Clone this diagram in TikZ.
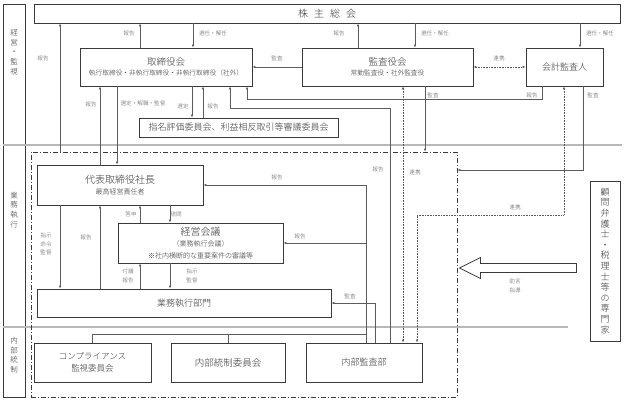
\documentclass[tikz,border=0pt]{standalone}
\usepackage{fontspec}
\setmainfont{Noto Sans CJK JP}[UprightFont=* Light]
\usepackage{tikz}
\usetikzlibrary{arrows.meta,positioning,calc}
\definecolor{ink}{HTML}{333333}
\definecolor{edge}{HTML}{3A3A3A}
\definecolor{wire}{HTML}{5C5C5C}
\definecolor{rulegray}{HTML}{B8B8B8}
\tikzset{
  orgbox/.style={
    rectangle, draw=edge, line width=0.9pt, fill=white,
    text=ink, align=center, inner sep=0pt,
    font=\fontsize{9.5}{10.5}\selectfont
  },
  sidetxt/.style={
    text=ink, align=center, inner sep=0pt,
    font=\fontsize{7.5}{9.7}\selectfont
  },
  lbl/.style={
    text=wire, align=center, inner sep=0pt,
    font=\fontsize{5.6}{8.5}\selectfont
  },
  arr/.style={
    draw=wire, line width=0.6pt, -{Latex[length=3pt,width=2.6pt]}
  },
  conn/.style={draw=wire, line width=0.6pt},
  linkarr/.style={
    draw=wire, line width=0.6pt, dash pattern=on 0.8pt off 0.8pt,
    {Latex[length=3pt,width=2.6pt]}-{Latex[length=3pt,width=2.6pt]}
  },
  execframe/.style={
    rectangle, draw=edge, line width=0.8pt, inner sep=0pt,
    dash pattern=on 5pt off 2pt on 1pt off 2pt
  },
  seprule/.style={draw=rulegray, line width=1.6pt},
  hollow/.style={draw=edge, line width=0.8pt, fill=white, line join=miter},
}

\begin{document}
\begin{tikzpicture}[x=1pt, y=-1pt]
\useasboundingbox (0,0) rectangle (624,401);
\node[rectangle, draw=edge, line width=0.9pt, minimum width=22pt, minimum height=393pt] (side) at (14,200.5) {};
\draw[seprule] (side.west |- 0,145) -- (622,145);
\draw[seprule] (side.west |- 0,327) -- (568,327);
\node[sidetxt] (sidea) at (14,52) {経\\営\\・\\監\\視};
\node[sidetxt] (sideb) at (14,210) {業\\務\\執\\行};
\node[sidetxt] (sidec) at (14,355) {内\\部\\統\\制};

\node[execframe, minimum width=426pt, minimum height=245pt] (execarea) at (244,274.5) {};

\node[orgbox, minimum width=586pt, minimum height=19pt, font=\fontsize{10}{12}\selectfont] (soukai) at (327,13.5) {株\hspace{6pt}主\hspace{6pt}総\hspace{6pt}会};
\node[orgbox, minimum width=172pt, minimum height=38pt] (tob) at (166,67) {取締役会\\{\fontsize{6.7}{8}\selectfont 執行取締役・非執行取締役・非執行取締役（社外）}};
\node[orgbox, minimum width=171pt, minimum height=38pt] (kab) at (387.5,67) {監査役会\\{\fontsize{6.7}{8}\selectfont 常勤監査役・社外監査役}};
\node[orgbox, minimum width=77pt, minimum height=38pt, font=\fontsize{9}{11}\selectfont] (kaikei) at (564.5,67) {会計監査人};
\node[orgbox, minimum width=199pt, minimum height=19pt, font=\fontsize{9}{11}\selectfont] (iinkai) at (238.5,127.5) {指名評価委員会、利益相反取引等審議委員会};
\node[orgbox, minimum width=166pt, minimum height=40pt, font=\fontsize{10}{10.5}\selectfont] (pres) at (120,185) {代表取締役社長\\{\fontsize{7}{8}\selectfont 最高経営責任者}};
\node[orgbox, minimum width=165pt, minimum height=40pt, font=\fontsize{10}{11.5}\selectfont] (keiei) at (200.5,243) {経営会議\\{\fontsize{7}{8}\selectfont （業務執行会議）}\\{\fontsize{7}{8}\selectfont ※社内横断的な重要案件の審議等}};
\node[orgbox, minimum width=294pt, minimum height=28pt, font=\fontsize{9}{11}\selectfont] (bumon) at (184,303) {業務執行部門};
\node[orgbox, minimum width=117pt, minimum height=39pt, font=\fontsize{8.5}{12}\selectfont] (comp) at (92.5,362.5) {コンプライアンス\\監視委員会};
\node[orgbox, minimum width=114pt, minimum height=39pt, font=\fontsize{9.5}{11}\selectfont] (naitou) at (228,362.5) {内部統制委員会};
\node[orgbox, minimum width=116pt, minimum height=39pt, font=\fontsize{9}{11}\selectfont] (kansa) at (364,362.5) {内部監査部};
\node[orgbox, minimum width=30pt, minimum height=160pt, font=\fontsize{9}{10.6}\selectfont] (senmon) at (605,261) {顧\\問\\弁\\護\\士\\・\\税\\理\\士\\等\\の\\専\\門\\家};

\foreach \x in {60,100,117,140,170,192,193,203,230,247,358,366,375,390,403,415,417,425,542,564,580,583}
  \coordinate (c\x) at (\x,0);
\foreach \y in {99,108,170,215,268,334}
  \coordinate (r\y) at (0,\y);

\draw[arr] (execarea.north -| c60) -- (soukai.south -| c60);
\draw[arr] (tob.north -| c140) -- (soukai.south -| c140);
\draw[arr] (soukai.south -| c193) -- (tob.north -| c193);
\draw[arr] (kab.north -| c358) -- (soukai.south -| c358);
\draw[arr] (soukai.south -| c415) -- (kab.north -| c415);
\draw[arr] (soukai.south -| c580) -- (kaikei.north -| c580);
\draw[arr] (kab.west) -- (tob.east);
\draw[linkarr] (kab.east) -- (kaikei.west);
\draw[arr] (pres.north -| c100) -- (tob.south -| c100);
\draw[arr] (tob.south -| c117) -- (pres.north -| c117);
\draw[arr] (tob.south -| c192) -- (iinkai.north -| c192);
\draw[arr] (iinkai.north -| c203) -- (tob.south -| c203);
\draw[arr] (kansa.north -| c390) -- (c390 |- r108) -| (tob.south -| c230);
\draw[arr] (kaikei.south -| c542) -- (c542 |- r99) -| (tob.south -| c247);
\draw[arr] (kab.south -| c425) -- (execarea.north -| c425);
\draw[linkarr] (kab.south -| c403) -- (kansa.north -| c403);
\draw[linkarr] (kaikei.south -| c564) -- (c564 |- r215) -| (kansa.north -| c417);
\draw[arr] (kaikei.south -| c583) |- (execarea.east |- r170);
\draw[arr] (pres.south -| c60) -- (bumon.north -| c60);
\draw[arr] (bumon.north -| c100) -- (pres.south -| c100);
\draw[arr] (keiei.north -| c140) -- (pres.south -| c140);
\draw[arr] (pres.south -| c170) -- (keiei.north -| c170);
\draw[arr] (bumon.north -| c140) -- (keiei.south -| c140);
\draw[arr] (keiei.south -| c170) -- (bumon.north -| c170);
\draw[arr] (kansa.north -| c366) |- (pres.east);
\draw[arr] (c366 |- keiei.east) -- (keiei.east);
\draw[arr] (kansa.north -| c375) |- (bumon.east);
\draw[conn] (comp.north) |- (c366 |- r334);
\draw[conn] (naitou.north) -- (naitou.north |- r334);
\draw[hollow] ($(execarea.east |- r268)+(2,0)$) -- ++(21,-10.5) -- ++(0,6) -- ++(96,0) -- ++(0,9) -- ++(-96,0) -- ++(0,6) -- cycle;

\foreach \t/\x/\y [count=\i] in {
  報告/43/58, 報告/129/33, 選任・解任/213/33, 報告/339/33, 選任・解任/435/33,
  選任・解任/600/33, 監査/277/58, 連携/499/58, 報告/91/104, 選定・解職・監督/143/103,
  選定/183/106, 報告/213/106, 監査/433/95, 報告/532/95, 監査/593/95,
  報告/378/169, 連携/415/172, 報告/277/177, 連携/515/207, 答申/131/214,
  諮問/176/214, {指示\\命令\\監督}/46/244, 報告/86/237, 報告/300/236,
  {付議\\報告}/128/276, {指示\\監督}/192/276, 監査/350/296, {助言\\指導}/515/286}
  \node[lbl] (lb\i) at (\x,\y) {\t};
\end{tikzpicture}
\end{document}
